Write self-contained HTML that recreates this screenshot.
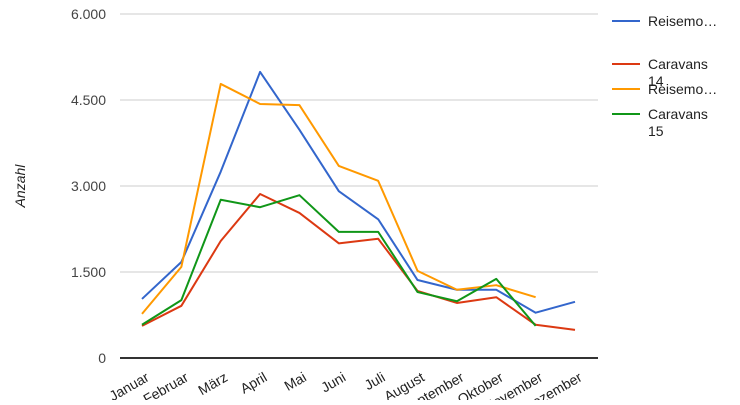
<!DOCTYPE html>
<html><head><meta charset="utf-8"><style>
body{margin:0;background:#fff;font-family:"Liberation Sans",Arial,sans-serif}
</style></head><body>
<svg width="740" height="400" id="chart" font-family="Liberation Sans, Arial, sans-serif"></svg>
<script>
const categories=["Januar","Februar","März","April","Mai","Juni","Juli","August","September","Oktober","November","Dezember"];
const yTicks=[0,1500,3000,4500,6000];
const yTickLabels=["0","1.500","3.000","4.500","6.000"];
const reisemobile14=[1030,1675,3250,4990,3980,2910,2420,1360,1190,1190,790,980];
const caravans14=[560,910,2040,2860,2530,2000,2080,1170,960,1060,580,490];
const reisemobile15=[770,1590,4780,4430,4410,3350,3090,1520,1190,1270,1060,null];
const caravans15=[580,1010,2760,2630,2840,2200,2200,1150,990,1380,560,null];
const seriesNames=["Reisemo…","Caravans 14","Reisemo…","Caravans 15"];
const seriesColors=["#3366cc","#dc3912","#ff9900","#109618"];
const seriesData=[reisemobile14,caravans14,reisemobile15,caravans15];
const NS="http://www.w3.org/2000/svg";
const svg=document.getElementById('chart');
const L=120,R=598,T=14,B=358;
const x=i=>142+i*(575-142)/(categories.length-1);
const y=v=>B-(v/6000)*(B-T);
function mk(t,a,p){const e=document.createElementNS(NS,t);for(const k in a)e.setAttribute(k,a[k]);(p||svg).appendChild(e);return e;}
yTicks.forEach((v,i)=>{
 const g=mk('line',{x1:L,x2:R,y1:y(v),y2:y(v),stroke:v===0?'#333':'#ccc','stroke-width':v===0?2:1});
 
 
 const t=mk('text',{x:106,y:y(v)+5,'text-anchor':'end','font-size':14,fill:'#444'});
 t.textContent=yTickLabels[i];
 
 
});
categories.forEach((c,i)=>{
 const t=mk('text',{x:x(i)+8,y:380,'text-anchor':'end','font-size':14,fill:'#222',transform:`rotate(-30 ${x(i)+8} 380)`});
 t.textContent=c;
 
 
});
const yt=mk('text',{x:25,y:186,'text-anchor':'middle','font-size':14,'font-style':'italic',fill:'#222',transform:'rotate(-90 25 186)'});
yt.textContent='Anzahl';


seriesData.forEach((d,s)=>{
 const pts=d.map((v,i)=>v==null?null:x(i)+','+y(v)).filter(p=>p);
 const p=mk('polyline',{points:pts.join(' '),fill:'none',stroke:seriesColors[s],'stroke-width':2,'stroke-linejoin':'round'});
 
 
});
const legY=[21,64,89,114];
seriesNames.forEach((n,s)=>{
 const g=mk('g',{});
 
 
 mk('line',{x1:612,x2:640,y1:legY[s],y2:legY[s],stroke:seriesColors[s],'stroke-width':2},g);
 const parts=n.split(' ');
 const t=mk('text',{x:648,y:legY[s]+5,'font-size':14,fill:'#222'},g);
 if(parts.length>1){
  const a=mk('tspan',{x:648},t);a.textContent=parts[0];
  const b=mk('tspan',{x:648,dy:17},t);b.textContent=parts[1];
 } else t.textContent=n;
});
</script>
</body></html>
